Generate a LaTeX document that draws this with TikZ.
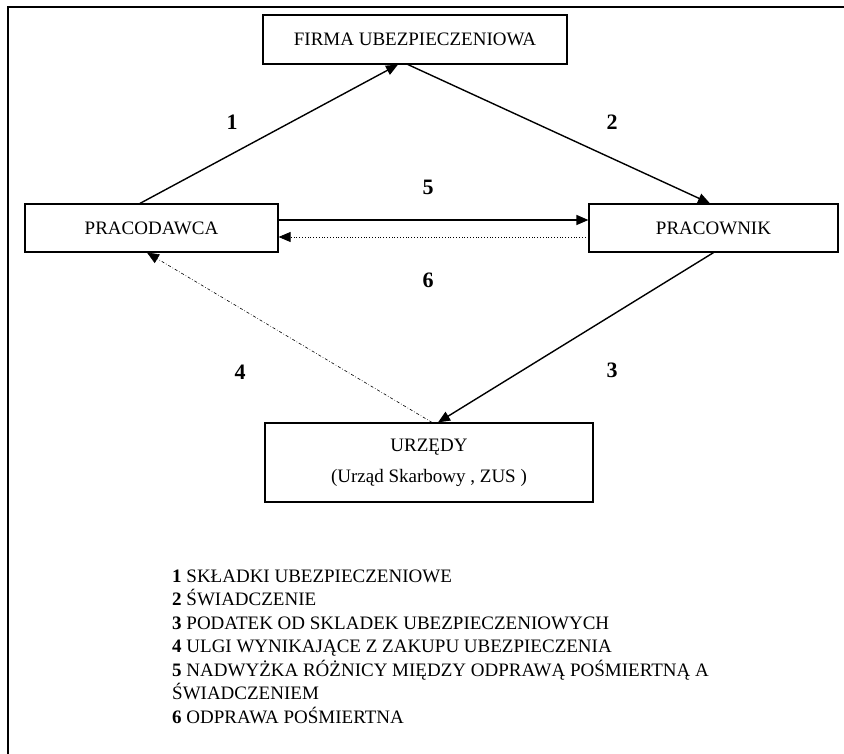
\documentclass[tikz,border=0pt]{standalone}
\usepackage{fontspec}
\setmainfont{Liberation Serif}
\usetikzlibrary{arrows.meta}

\begin{document}
\begin{tikzpicture}[x=1pt,y=-1pt,
    box/.style={draw,line width=1.2pt,inner sep=0pt,align=center,
      font=\fontsize{19}{22}\selectfont},
    flow/.style={line width=1.4pt,-{Triangle[length=12pt,width=10pt]}},
    num/.style={font=\fontsize{22}{24}\selectfont\bfseries},
    legend/.style={anchor=base west,inner sep=0pt,font=\fontsize{19}{22}\selectfont}]
  \useasboundingbox (0,0) rectangle (844,754);
  % frame
  \draw[line width=2pt] (8,754) -- (8,7) -- (844,7);
  % boxes
  \node[box,minimum width=304pt,minimum height=49pt] (firma) at (415,39.5) {FIRMA UBEZPIECZENIOWA};
  \node[box,minimum width=253pt,minimum height=48pt] (pracodawca) at (151.5,228) {PRACODAWCA};
  \node[box,minimum width=249pt,minimum height=48pt] (pracownik) at (713.5,228) {PRACOWNIK};
  \node[box,minimum width=328pt,minimum height=79pt] (urzedy) at (429,462.5) {URZĘDY\\[9pt](Urząd Skarbowy , ZUS )};
  % connectors
  \draw[flow] ([xshift=-11.5pt]pracodawca.north) -- ([xshift=-17pt]firma.south);
  \draw[flow] ([xshift=-7pt]firma.south) -- ([xshift=-3.5pt]pracownik.north);
  \draw[flow] (pracownik.south) -- ([xshift=9pt]urzedy.north);
  \draw[line width=0.6pt,dash dot,-{Triangle[length=12pt,width=10pt]}]
    ([xshift=3pt]urzedy.north) -- ([xshift=-4.5pt]pracodawca.south);
  \draw[flow] ([yshift=8pt]pracodawca.east) -- ([yshift=8pt]pracownik.west);
  \draw[line width=0.8pt,dotted,-{Triangle[length=12pt,width=10pt]}]
    ([yshift=-9pt]pracownik.west) -- ([yshift=-9pt]pracodawca.east);
  % labels
  \node[num] (l1) at (232,122) {1};
  \node[num] (l2) at (612,122) {2};
  \node[num] (l3) at (612,370) {3};
  \node[num] (l4) at (240,372) {4};
  \node[num] (l5) at (428,187) {5};
  \node[num] (l6) at (428,280) {6};
  % legend
  \node[legend] (leg1) at (172,582) {\textbf{1} SKŁADKI UBEZPIECZENIOWE};
  \node[legend] (leg2) at (172,605.5) {\textbf{2} ŚWIADCZENIE};
  \node[legend] (leg3) at (172,629) {\textbf{3} PODATEK OD SKLADEK UBEZPIECZENIOWYCH};
  \node[legend] (leg4) at (172,652.5) {\textbf{4} ULGI WYNIKAJĄCE Z ZAKUPU UBEZPIECZENIA};
  \node[legend] (leg5) at (172,676) {\textbf{5} NADWYŻKA RÓŻNICY MIĘDZY ODPRAWĄ POŚMIERTNĄ A};
  \node[legend] (leg5b) at (172,699.5) {ŚWIADCZENIEM};
  \node[legend] (leg6) at (172,723) {\textbf{6} ODPRAWA POŚMIERTNA};
\end{tikzpicture}
\end{document}
